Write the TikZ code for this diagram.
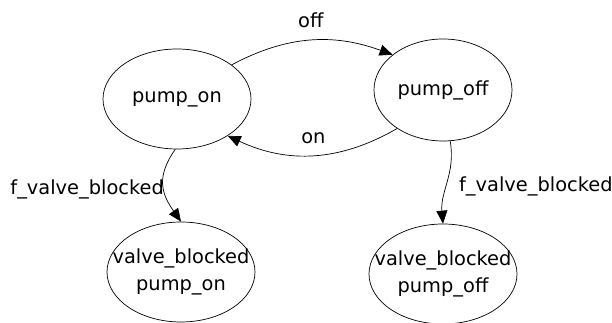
\documentclass[tikz,border=0pt]{standalone}
\usepackage{fontspec}
\setmainfont{DejaVu Sans}
\usetikzlibrary{arrows.meta, shapes.geometric}

\begin{document}
\begin{tikzpicture}[x=1pt,y=1pt,>={Triangle[length=13pt,width=11pt]},line width=0.7pt,
      every node/.style={font=\fontsize{19.4}{27}\selectfont},
      mode/.style={draw,ellipse,inner sep=-20pt,minimum width=148pt,minimum height=100pt,align=center},
      lbl/.style={inner sep=3pt}]
      \useasboundingbox (0,0) rectangle (612,323);
      \node[mode]   (pump_on) at (177,224) {pump\_on};
      \node[mode, minimum width=138pt, minimum height=102pt]   (pump_off) at (443,233) {pump\_off};
      \node[mode]   (vb_on) at (181,51) {valve\_blocked\\pump\_on};
      \node[mode]   (vb_off) at (443,49) {valve\_blocked\\pump\_off};
      \path[->]
      (pump_on.32) edge [out=28, in=160] node [lbl, above=9pt] {off} (pump_off.145)
      (pump_off.220) edge [out=210, in=-25] node [lbl, above=8pt] {on} (pump_on.324)
      (pump_on.268) edge [out=235, in=125, looseness=1.2] node [lbl, pos=0.56, left=0pt, inner sep=0pt] {f\_valve\_blocked} (vb_on.90)
      (pump_off.278) edge [out=-80, in=95] node [lbl, pos=0.55, right=9pt] {f\_valve\_blocked} (vb_off.90);
    \end{tikzpicture}
\end{document}
